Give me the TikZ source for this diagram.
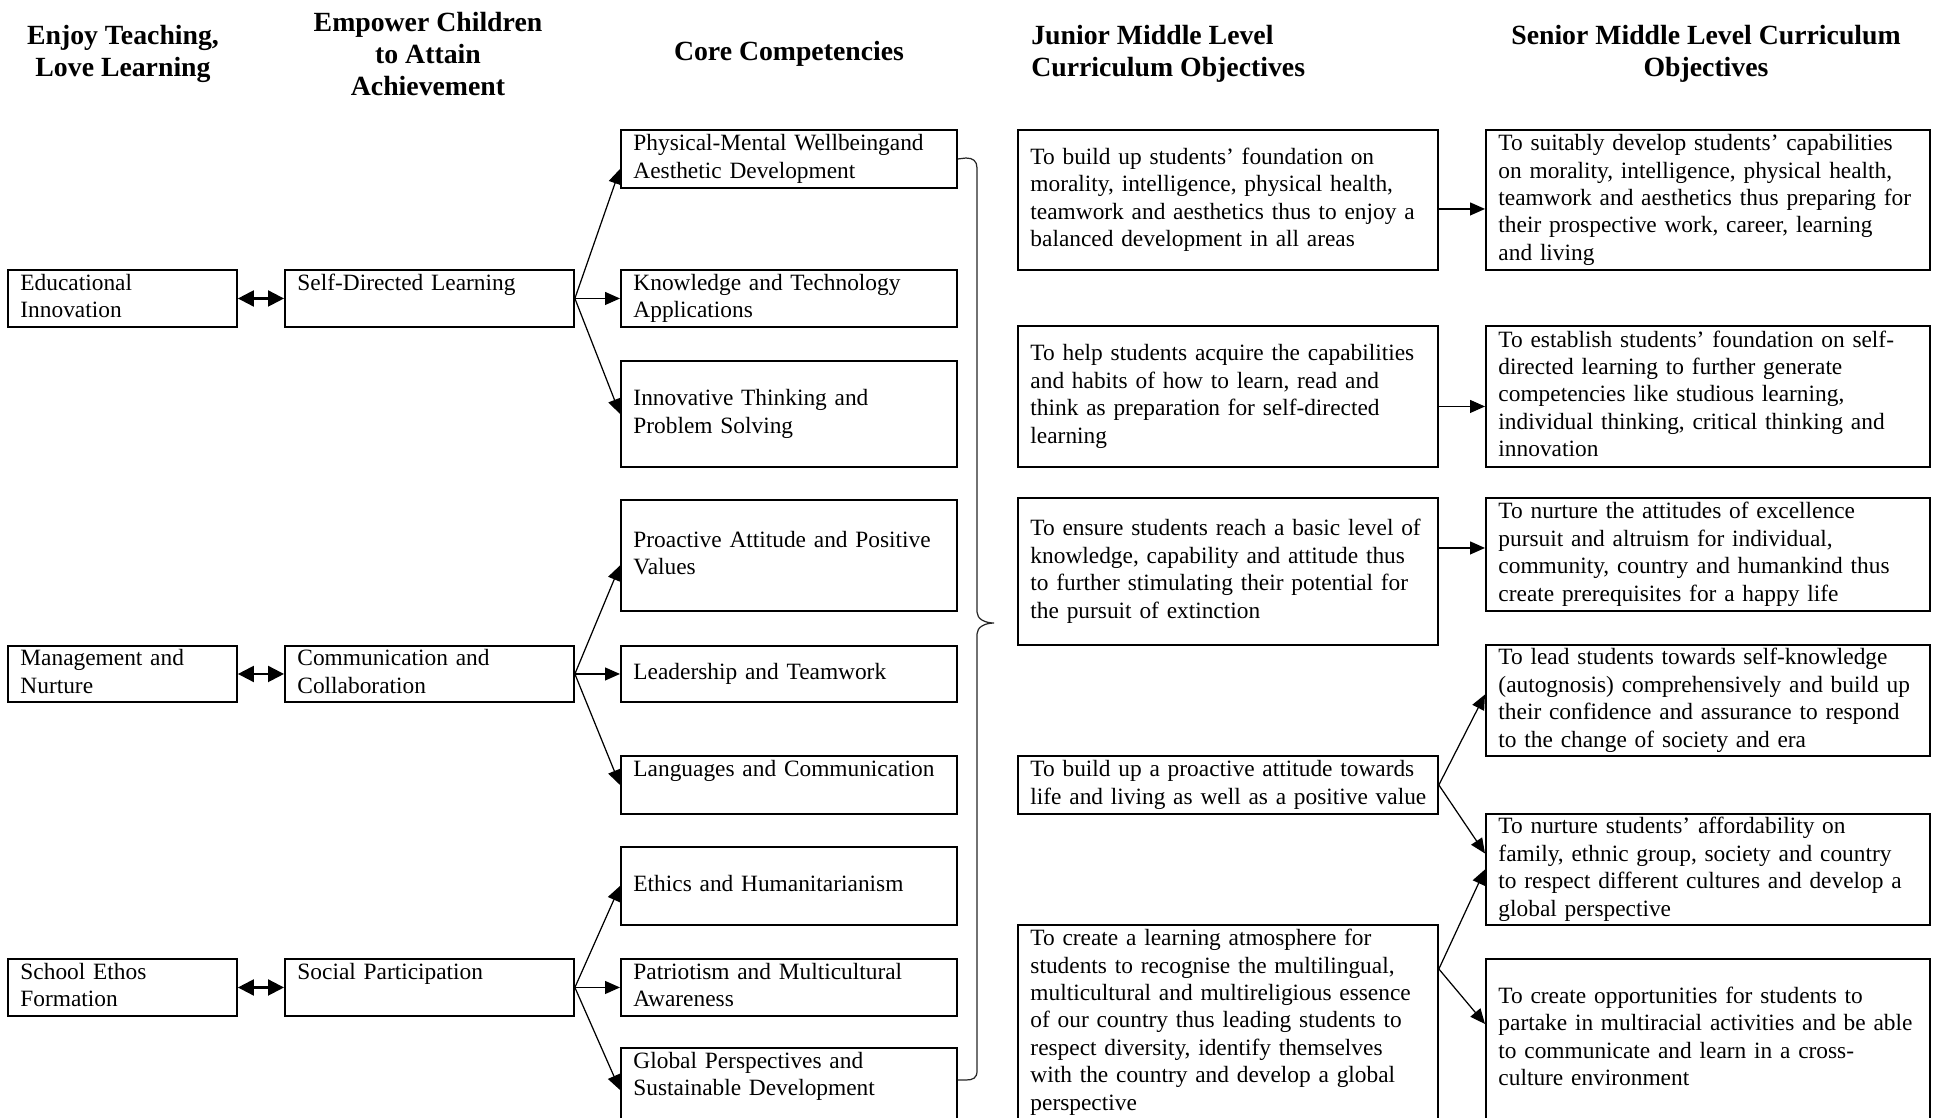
\documentclass[tikz,border=0pt]{standalone}
\usepackage{fontspec}
\setmainfont{Liberation Serif}
\usetikzlibrary{arrows.meta}

\newcommand{\bodyfont}{\fontsize{13.3}{15.6}\selectfont}
\newcommand{\headfont}{\fontsize{15.8}{18.3}\selectfont\bfseries}

\begin{document}
\begin{tikzpicture}[
    x=0.02cm, y=-0.02cm,
    box/.style={draw, line width=1.1pt, anchor=north west, inner xsep=0.25cm, inner ysep=0pt,
                font=\bodyfont, align=left,
                execute at begin node=\strut, execute at end node=\strut},
    pillar/.style={box, minimum width=4.58cm, text width=4.08cm},
    aim/.style={box, minimum width=5.78cm, text width=5.28cm},
    core/.style={box, minimum width=6.72cm, text width=6.22cm},
    junior/.style={box, minimum width=8.40cm, text width=7.90cm},
    senior/.style={box, minimum width=8.88cm, text width=8.38cm},
    head/.style={font=\headfont, align=center, inner sep=0pt},
    arrow/.style={-{Triangle[length=0.3cm, width=0.26cm]}, line width=0.7pt},
    twoway/.style={{Triangle[length=0.32cm, width=0.32cm]}-{Triangle[length=0.32cm, width=0.32cm]}, line width=1.2pt},
    brace/.style={line width=0.7pt, black!85},
]
    \useasboundingbox (0,0) rectangle (1945,1117);
    \clip (0,0) rectangle (1945,1117);

    % Headings
    \node[head] (h1) at (123,54) {Enjoy Teaching,\\Love Learning};
    \node[head] (h2) at (428,54) {Empower Children\\to Attain\\Achievement};
    \node[head] (h3) at (789,54) {Core Competencies};
    \node[head, anchor=west, align=left] (h4) at (1031,54) {Junior Middle Level\\Curriculum Objectives};
    \node[head] (h5) at (1706,54) {Senior Middle Level Curriculum\\Objectives};

    % Pillars
    \node[pillar, minimum height=1.14cm] (edu) at (7,269) {Educational\\Innovation};
    \node[pillar, minimum height=1.12cm] (mgmt) at (7,645) {Management and\\Nurture};
    \node[pillar, minimum height=1.14cm] (ethos) at (7,958) {School Ethos\\Formation};

    % Aims
    \node[aim, minimum height=1.14cm] (sdl) at (284,269) {Self-Directed Learning\\\mbox{}};
    \node[aim, minimum height=1.12cm] (comm) at (284,645) {Communication and\\Collaboration};
    \node[aim, minimum height=1.14cm] (soc) at (284,958) {Social Participation\\\mbox{}};

    % Core competencies
    \node[core, minimum height=1.16cm] (phys) at (620,129) {Physical-Mental Wellbeingand\\Aesthetic Development};
    \node[core, minimum height=1.14cm] (know) at (620,269) {Knowledge and Technology\\Applications};
    \node[core, minimum height=2.12cm] (innov) at (620,360) {Innovative Thinking and\\Problem Solving};
    \node[core, minimum height=2.22cm] (proact) at (620,499) {Proactive Attitude and Positive\\Values};
    \node[core, minimum height=1.12cm] (lead) at (620,645) {Leadership and Teamwork};
    \node[core, minimum height=1.16cm] (lang) at (620,755) {Languages and Communication\\\mbox{}};
    \node[core, minimum height=1.56cm] (ethics) at (620,846) {Ethics and Humanitarianism};
    \node[core, minimum height=1.14cm] (patri) at (620,958) {Patriotism and Multicultural\\Awareness};
    \node[core, minimum height=1.68cm] (global) at (620,1047) {Global Perspectives and\\Sustainable Development\\\mbox{}};

    % Junior objectives
    \node[junior, minimum height=2.80cm] (j1) at (1017,129)
        {To build up students’ foundation on\\morality, intelligence, physical health,\\teamwork and aesthetics thus to enjoy a\\balanced development in all areas};
    \node[junior, minimum height=2.82cm] (j2) at (1017,325)
        {To help students acquire the capabilities\\and habits of how to learn, read and\\think as preparation for self-directed\\learning};
    \node[junior, minimum height=2.94cm] (j3) at (1017,497)
        {To ensure students reach a basic level of\\knowledge, capability and attitude thus\\to further stimulating their potential for\\the pursuit of extinction};
    \node[junior, minimum height=1.16cm] (j4) at (1017,755)
        {To build up a proactive attitude towards\\\mbox{life and living as well as a positive value}};
    \node[junior, minimum height=3.90cm] (j5) at (1017,924)
        {To create a learning atmosphere for\\students to recognise the multilingual,\\multicultural and multireligious essence\\of our country thus leading students to\\respect diversity, identify themselves\\with the country and develop a global\\perspective};

    % Senior objectives
    \node[senior, minimum height=2.80cm] (s1) at (1485,129)
        {To suitably develop students’ capabilities\\on morality, intelligence, physical health,\\teamwork and aesthetics thus preparing for\\their prospective work, career, learning\\and living};
    \node[senior, minimum height=2.82cm] (s2) at (1485,325)
        {To establish students’ foundation on self-\\directed learning to further generate\\competencies like studious learning,\\individual thinking, critical thinking and\\innovation};
    \node[senior, minimum height=2.26cm] (s3) at (1485,497)
        {To nurture the attitudes of excellence\\pursuit and altruism for individual,\\community, country and humankind thus\\create prerequisites for a happy life};
    \node[senior, minimum height=2.22cm] (s4) at (1485,644)
        {To lead students towards self-knowledge\\(autognosis) comprehensively and build up\\their confidence and assurance to respond\\to the change of society and era};
    \node[senior, minimum height=2.22cm] (s5) at (1485,813)
        {To nurture students’ affordability on\\family, ethnic group, society and country\\to respect different cultures and develop a\\global perspective};
    \node[senior, minimum height=3.20cm] (s6) at (1485,958)
        {To create opportunities for students to\\partake in multiracial activities and be able\\to communicate and learn in a cross-\\culture environment};

    % Pillars <-> aims
    \draw[twoway] (edu) -- (sdl);
    \draw[twoway] (mgmt) -- (comm);
    \draw[twoway] (ethos) -- (soc);

    % Aims -> core competencies
    \draw[arrow] (sdl.east) -- ([yshift=-0.2cm]phys.west);
    \draw[arrow] (sdl.east) -- (know.west);
    \draw[arrow] (sdl.east) -- (innov.west);
    \draw[arrow] (comm.east) -- ([yshift=-0.2cm]proact.west);
    \draw[arrow] (comm.east) -- (lead.west);
    \draw[arrow] (comm.east) -- (lang.west);
    \draw[arrow] (soc.east) -- (ethics.west);
    \draw[arrow] (soc.east) -- (patri.west);
    \draw[arrow] (soc.east) -- (global.west);

    % Brace over the competencies
    \coordinate (tip) at (994,623);
    \coordinate (gend) at ([yshift=-0.66cm]global.north east);
    \draw[brace] (phys.east) -- (966,158) .. controls (973,158) and (977,161) .. (977,168)
        -- (977,612) .. controls (977,619) and (985,623) .. (tip)
        .. controls (985,623) and (977,627) .. (977,634)
        -- (977,1071) .. controls (977,1078) and (973,1080) .. (966,1080) -- (gend);

    % Junior -> senior
    \coordinate (s3in) at ([yshift=0.13cm]s3.west);
    \coordinate (j5out) at ([yshift=-0.9cm]j5.north east);
    \draw[arrow] ([yshift=-0.18cm]j1.east) -- ([yshift=-0.18cm]s1.west);
    \draw[arrow] ([yshift=-0.2cm]j2.east) -- ([yshift=-0.2cm]s2.west);
    \draw[arrow] (j3.east |- s3in) -- (s3in);
    \draw[arrow] (j4.east) -- ([yshift=0.12cm]s4.west);
    \draw[arrow] (j4.east) -- ([yshift=0.32cm]s5.west);
    \draw[arrow] (j5out) -- (s5.west);
    \draw[arrow] (j5out) -- ([yshift=0.3cm]s6.west);
\end{tikzpicture}
\end{document}
